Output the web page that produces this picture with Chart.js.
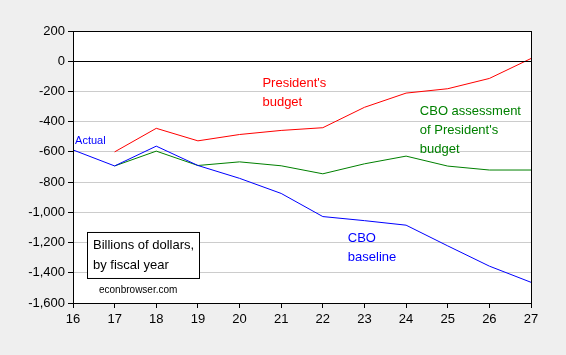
<!DOCTYPE html>
<html><head><meta charset="utf-8">
<script src="https://cdn.jsdelivr.net/npm/chart.js@4/dist/chart.umd.min.js"></script>
<style>html,body{margin:0;padding:0;background:#efefef;}#w{width:566px;height:355px;}</style>
</head><body><div id="w"><canvas id="c" width="566" height="355"></canvas></div>
<script>
const years = [16,17,18,19,20,21,22,23,24,25,26,27];
const cboBaseline = [-587,-693,-562,-690,-775,-875,-1028,-1055,-1085,-1222,-1356,-1463];
const presidentsBudget = [null,-600,-444,-527,-485,-458,-440,-305,-211,-182,-114,18];
const cboAssessment = [null,-693,-595,-690,-666,-692,-745,-679,-628,-694,-720,-720];
const yTicks = [200,0,-200,-400,-600,-800,-1000,-1200,-1400,-1600];

const FONT = '"Liberation Sans", Arial, sans-serif';
function pts(arr){return years.map((x,i)=>arr[i]===null?null:{x:x,y:arr[i]}).filter(p=>p);}

const notes = [
  {lines:["President's","budget"], x:20.55, y:-145, color:'#ff0000', size:13},
  {lines:["CBO assessment","of President's","budget"], x:24.33, y:-335, color:'#008000', size:13},
  {lines:["CBO","baseline"], x:22.6, y:-1170, color:'#0000ff', size:13},
  {lines:["Actual"], x:16.05, y:-530, color:'#0000ff', size:11}
];

const bg = {
  id:'bg',
  beforeDraw(chart){
    const {ctx, chartArea:a} = chart;
    ctx.save(); ctx.fillStyle='#efefef'; ctx.fillRect(0,0,chart.width,chart.height);
    ctx.fillStyle='#fff'; ctx.fillRect(a.left,a.top,a.right-a.left,a.bottom-a.top); ctx.restore();
  }
};

const deco = {
  id:'deco',
  afterDatasetsDraw(chart){
    const {ctx, chartArea:a, scales:{x,y}} = chart;
    ctx.save();
    ctx.strokeStyle='#000'; ctx.lineWidth=1;
    const zy = Math.round(y.getPixelForValue(0))+0.5;
    ctx.beginPath(); ctx.moveTo(a.left, zy); ctx.lineTo(a.right, zy); ctx.stroke();
    ctx.strokeRect(Math.round(a.left)+0.5, Math.round(a.top)+0.5, Math.round(a.right-a.left), Math.round(a.bottom-a.top));
    ctx.textBaseline='middle'; ctx.textAlign='left';
    notes.forEach(n=>{
      ctx.font = n.size+'px '+FONT;
      n.lines.forEach((l,i)=>{ ctx.fillStyle=n.color; ctx.fillText(l, x.getPixelForValue(n.x), y.getPixelForValue(n.y)+i*19); });
    });
    const bx = a.left+14, by = y.getPixelForValue(-1130);
    ctx.fillStyle='#fff'; ctx.fillRect(bx,by,112,46);
    ctx.strokeStyle='#000'; ctx.strokeRect(bx+0.5,by+0.5,112,46);
    ctx.fillStyle='#000'; ctx.font='13px '+FONT;
    ctx.fillText('Billions of dollars,', bx+6, by+13);
    ctx.fillText('by fiscal year', bx+6, by+33);
    ctx.font='10px '+FONT;
    ctx.fillText('econbrowser.com', a.left+26, y.getPixelForValue(-1518));
    ctx.restore();
  }
};

new Chart(document.getElementById('c'), {
  type:'line',
  data:{datasets:[
    {data:pts(cboBaseline), borderColor:'#0000ff', borderWidth:1, pointRadius:0, tension:0},
    {data:pts(presidentsBudget), borderColor:'#ff0000', borderWidth:1, pointRadius:0, tension:0},
    {data:pts(cboAssessment), borderColor:'#008000', borderWidth:1, pointRadius:0, tension:0}
  ]},
  options:{
    responsive:false, animation:false,
    layout:{padding:{left:0,right:35,top:31,bottom:0}},
    plugins:{legend:{display:false}, tooltip:{enabled:false}},
    scales:{
      x:{type:'linear', min:16, max:27,
        afterBuildTicks(s){s.ticks = years.map(v=>({value:v}));},
        afterFit(s){s.height = 52;},
        grid:{drawOnChartArea:false, drawTicks:true, tickLength:5, tickColor:'#000'},
        border:{color:'#000'},
        ticks:{color:'#000', font:{family:FONT, size:13}, padding:4, maxRotation:0,
          callback:v=>String(v)}
      },
      y:{min:-1600, max:200,
        afterBuildTicks(s){s.ticks = yTicks.map(v=>({value:v}));},
        afterFit(s){s.width = 73;},
        grid:{color:'#cccccc', drawTicks:true, tickLength:5, tickColor:'#000'},
        border:{color:'#000'},
        ticks:{color:'#000', font:{family:FONT, size:13}, padding:3,
          callback:v=>v.toLocaleString('en-US')}
      }
    }
  },
  plugins:[bg, deco]
});
</script></body></html>
